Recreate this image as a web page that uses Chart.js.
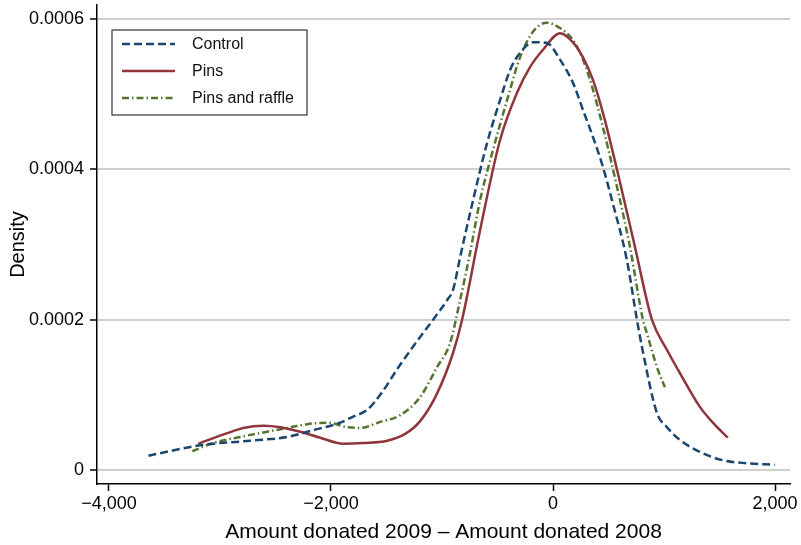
<!DOCTYPE html>
<html>
<head>
<meta charset="utf-8">
<script src="https://cdn.jsdelivr.net/npm/chart.js@4"></script>
<style>
  body { margin: 0; background: #fff; }
</style>
</head>
<body>
<canvas id="chart" width="801" height="545"></canvas>
<script>
// Kernel density estimates (x = donation change, y = density)
const controlX = [-3645, -3177, -2727, -2394, -2160, -1917, -1800, -1674, -1557, -1377,
  -1197, -1080, -954, -900, -837, -720, -594, -477, -387, -297,
  -180, -54, 63, 180, 270, 360, 450, 531, 666, 756,
  801, 936, 1026, 1143, 1323, 1530, 1746, 1998];
const controlY = [0.19, 0.33, 0.39, 0.44, 0.53, 0.63, 0.71, 0.80, 1.00, 1.40,
  1.77, 2.00, 2.26, 2.40, 2.83, 3.59, 4.35, 4.92, 5.32, 5.55,
  5.69, 5.68, 5.46, 5.15, 4.79, 4.43, 4.03, 3.59, 2.79, 2.00,
  1.64, 0.76, 0.57, 0.40, 0.24, 0.13, 0.09, 0.07];

const pinsX = [-3195, -2934, -2790, -2610, -2457, -2277, -2097, -1890, -1710, -1494,
  -1332, -1197, -1044, -900, -819, -657, -477, -324, -207, -90,
  63, 180, 270, 360, 450, 576, 738, 891,
  1026, 1143, 1323, 1440, 1575];
const pinsY = [0.35, 0.49, 0.56, 0.59, 0.57, 0.51, 0.43, 0.35, 0.36, 0.39,
  0.48, 0.65, 1.02, 1.56, 2.00, 3.19, 4.39, 5.02, 5.36, 5.59,
  5.81, 5.69, 5.49, 5.19, 4.75, 4.00, 2.97, 2.00,
  1.60, 1.29, 0.84, 0.63, 0.43];

const raffleX = [-3249, -3060, -2817, -2574, -2394, -2214, -2034, -1854, -1737, -1557,
  -1377, -1197, -1044, -927, -837, -747, -657, -540, -414, -297,
  -180, -54, 63, 180, 270, 360, 450, 576, 693, 810,
  846, 936, 1008];
const raffleY = [0.25, 0.36, 0.44, 0.51, 0.56, 0.61, 0.63, 0.57, 0.56, 0.64,
  0.73, 0.97, 1.37, 1.69, 2.26, 2.89, 3.59, 4.26, 4.92, 5.49,
  5.83, 5.95, 5.88, 5.72, 5.46, 5.06, 4.56, 3.77, 2.97, 2.00,
  1.82, 1.37, 1.10];

// y arrays are in units of 1e-4
const yUnit = 0.0001;

const seriesNames = ["Control", "Pins", "Pins and raffle"];
const xTicks = [-4000, -2000, 0, 2000];
const yTicks = [0, 0.0002, 0.0004, 0.0006];
const yTickLabels = ["0", "0.0002", "0.0004", "0.0006"];

const FONT = "'Liberation Sans', Arial, Helvetica, sans-serif";

const toPoints = (xs, ys) => xs.map((x, i) => ({ x: x, y: ys[i] * yUnit }));

const fmtX = v => v < 0
  ? "\u2212" + Math.abs(v).toLocaleString("en-US")
  : v.toLocaleString("en-US");

// legend drawn inside the plot, Stata style
const insideLegend = {
  id: "insideLegend",
  afterDraw(chart) {
    const { ctx, chartArea } = chart;
    const left = chartArea.left + 15;
    const top = chartArea.top + 25;
    ctx.save();
    ctx.fillStyle = "#fff";
    ctx.fillRect(left, top, 195, 85);
    ctx.strokeStyle = "#333";
    ctx.lineWidth = 1.2;
    ctx.strokeRect(left, top, 195, 85);
    chart.data.datasets.forEach((ds, i) => {
      const y = top + 14 + i * 27;
      ctx.beginPath();
      ctx.setLineDash(ds.borderDash || []);
      ctx.strokeStyle = ds.borderColor;
      ctx.lineWidth = ds.borderWidth;
      ctx.moveTo(left + 10, y);
      ctx.lineTo(left + 63, y);
      ctx.stroke();
      ctx.setLineDash([]);
      ctx.fillStyle = "#111";
      ctx.font = "16px " + FONT;
      ctx.textBaseline = "middle";
      ctx.fillText(ds.label, left + 80, y + 1);
    });
    ctx.restore();
  }
};

const line = (label, data, color, dash) => ({
  label: label,
  data: data,
  borderColor: color,
  borderWidth: 2.5,
  borderDash: dash,
  pointRadius: 0,
  fill: false,
  tension: 0.4,
  cubicInterpolationMode: "monotone"
});

new Chart(document.getElementById("chart"), {
  type: "line",
  data: {
    datasets: [
      line(seriesNames[0], toPoints(controlX, controlY), "#1a476f", [8, 4]),
      line(seriesNames[1], toPoints(pinsX, pinsY), "#90353b", []),
      line(seriesNames[2], toPoints(raffleX, raffleY), "#55752f", [7, 3, 1.5, 3])
    ]
  },
  options: {
    responsive: false,
    animation: false,
    devicePixelRatio: 1,
    layout: { padding: { top: 5, right: 11, left: 0, bottom: 0 } },
    plugins: { legend: { display: false }, tooltip: { enabled: false } },
    scales: {
      x: {
        type: "linear",
        min: -4108,
        max: 2135,
        afterFit: s => { s.height = 61; s.paddingLeft = 0; s.paddingRight = 0; },
        afterBuildTicks: s => { s.ticks = xTicks.map(v => ({ value: v })); },
        border: { color: "#000", width: 1.5 },
        grid: { drawOnChartArea: false, tickLength: 7, tickColor: "#000", tickWidth: 1.5 },
        ticks: {
          color: "#000",
          padding: 2,
          maxRotation: 0,
          font: { family: FONT, size: 18 },
          callback: v => fmtX(v)
        },
        title: {
          display: true,
          text: "Amount donated 2009 \u2013 Amount donated 2008",
          color: "#000",
          padding: 0,
          font: { family: FONT, size: 21 }
        }
      },
      y: {
        min: -0.0000186,
        max: 0.0006186,
        afterFit: s => { s.width = 97; s.paddingTop = 0; s.paddingBottom = 0; },
        afterBuildTicks: s => { s.ticks = yTicks.map(v => ({ value: v })); },
        border: { color: "#000", width: 1.5 },
        grid: { color: "#cfcfcf", lineWidth: 2, tickLength: 7, tickColor: "#000", tickWidth: 1.5 },
        ticks: {
          color: "#000",
          padding: 6,
          font: { family: FONT, size: 18 },
          callback: v => yTickLabels[yTicks.indexOf(v)] ?? ""
        },
        title: {
          display: true,
          text: "Density",
          color: "#000",
          padding: { top: 6, bottom: 0 },
          font: { family: FONT, size: 20 }
        }
      }
    }
  },
  plugins: [insideLegend]
});
</script>
</body>
</html>
